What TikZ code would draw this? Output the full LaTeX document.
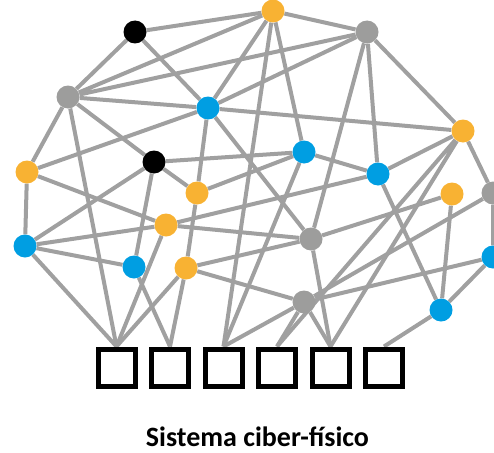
\documentclass[tikz,border=0pt]{standalone}
\usepackage{fontspec}
\setmainfont{Carlito}
\usetikzlibrary{backgrounds}
\definecolor{edgegray}{RGB}{160,160,160}
\definecolor{ngray}{RGB}{157,157,156}
\definecolor{norange}{RGB}{248,178,51}
\definecolor{nblue}{RGB}{0,158,226}
\begin{document}
\begin{tikzpicture}[x=1pt,y=-1pt,
  dot/.style={circle,minimum size=23pt,inner sep=0pt,draw=none},
  vo/.style={dot,fill=norange},
  vb/.style={dot,fill=nblue},
  vg/.style={dot,fill=ngray},
  vk/.style={dot,fill=black},
  box/.style={rectangle,draw=black,line width=5pt,fill=white,minimum size=37pt,inner sep=0pt},
  link/.style={draw=edgegray,line width=4pt}]
\useasboundingbox (0,0) rectangle (494,452);
% nodes
\node[vk] (k1) at (135,32) {};
\node[vo] (o1) at (273,11) {};
\node[vg] (g1) at (367,32) {};
\node[vg] (g2) at (68,97) {};
\node[vb] (b1) at (208,108) {};
\node[vo] (o2) at (463,131) {};
\node[vk] (k2) at (154,162) {};
\node[vb] (b2) at (304,152) {};
\node[vb] (b3) at (378,174) {};
\node[vo] (o3) at (27,172) {};
\node[vo] (o4) at (197,193) {};
\node[vo] (o5) at (452,194) {};
\node[vg] (g3) at (493,193) {};
\node[vo] (o6) at (166,225) {};
\node[vb] (b4) at (25,246) {};
\node[vg] (g4) at (311,239) {};
\node[vb] (b5) at (134,267) {};
\node[vo] (o7) at (186,268) {};
\node[vb] (b6) at (493,257) {};
\node[vg] (g5) at (304,302) {};
\node[vb] (b7) at (441,310) {};
\node[box] (s1) at (116.5,367.5) {};
\node[box] (s2) at (170,367.5) {};
\node[box] (s3) at (223.5,367.5) {};
\node[box] (s4) at (277,367.5) {};
\node[box] (s5) at (330.5,367.5) {};
\node[box] (s6) at (384,367.5) {};
\node[font=\bfseries\fontsize{28}{32}\selectfont,anchor=base,inner sep=0pt] (title) at (257.5,446) {Sistema ciber-físico};
% connectors
\begin{scope}[on background layer]
\path[link] (k1)--(o1) (k1)--(g2) (k1)--(b1);
\path[link] (g2)--(o1) (g2)--(g1) (g2)--(b1) (g2)--(k2) (g2)--(s1.north) (g2)--(o3);
\path[link] (o1)--(b1) (o1)--(g1) (o1)--(b2) (o1)--(s3.north);
\path[link] (g1)--(b1) (g1)--(o2) (g1)--(g4) (g1)--(b3);
\path[link] (b1)--(o3) (b1)--(o2) (b1)--(o4) (b1)--(g4);
\path[link] (o3)--(o6) (o3)--(b4);
\path[link] (b4)--(k2) (b4)--(o6) (b4)--(b5) (b4)--(s1.north);
\path[link] (k2)--(o4) (k2)--(b2) (k2)--(b5);
\path[link] (b2)--(o4) (b2)--(b3) (b2)--(s3.north);
\path[link] (b3)--(o6) (b3)--(o2) (b3)--(b7);
\path[link] (o4)--(o7);
\path[link] (o6)--(g4) (o6)--(s1.north);
\path[link] (o7)--(g4) (o7)--(g5) (o7)--(s1.north) (o7)--(s2.north);
\path[link] (b5)--(s2.north);
\path[link] (g4)--(o5) (g4)--(s5.north);
\path[link] (g5)--(b6) (g5)--(g3) (g5)--(s3.north) (g5)--(s4.north) (g5)--(s5.north);
\path[link] (o2)--(g3) (o2)--(s4.north) (o2)--(s5.north);
\path[link] (g3)--(b6) (b6)--(b7) (o5)--(b7) (b7)--(s6.north);
\end{scope}
\end{tikzpicture}
\end{document}
